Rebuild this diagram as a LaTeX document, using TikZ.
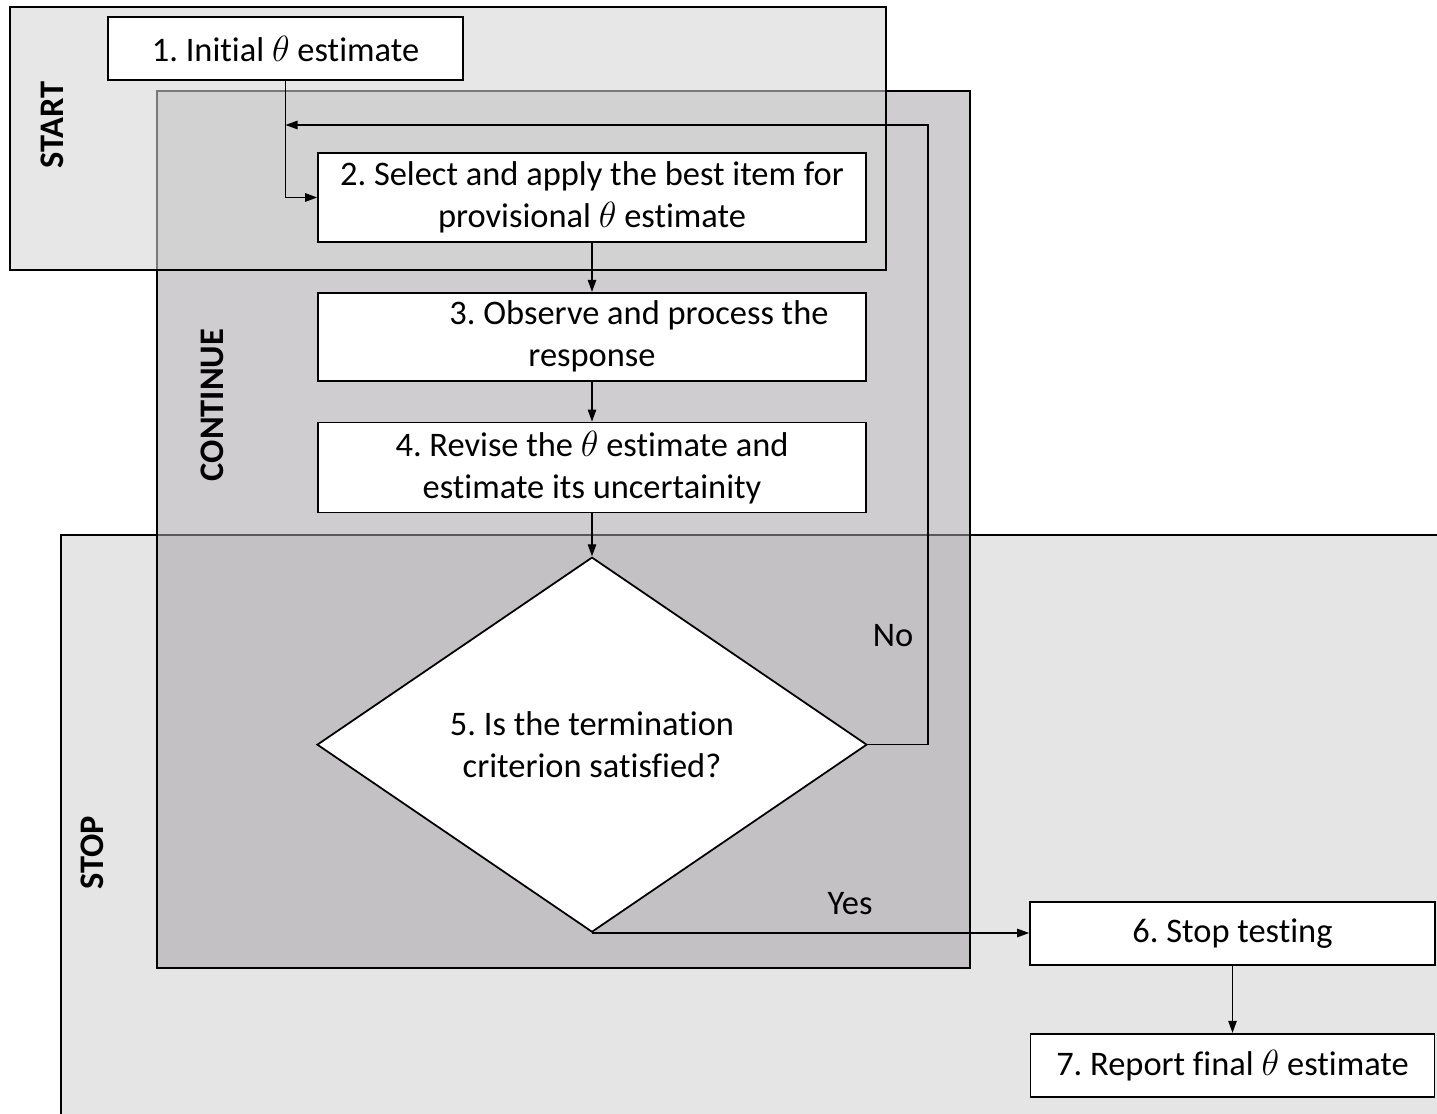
\documentclass[tikz,border=0pt]{standalone}
\usepackage{fontspec}
\setmainfont{Carlito}[Ligatures=NoCommon]
\frenchspacing
\usetikzlibrary{arrows.meta, positioning, shapes.geometric}

\begin{document}
\begin{tikzpicture}[
    x=0.02cm, y=-0.02cm, >={Triangle[length=0.24cm, width=0.17cm]},
    font=\fontsize{19.6}{24}\selectfont,
    stepbox/.style={draw, line width=1pt, fill=white, minimum width=10.96cm,
                    align=center, inner sep=2pt},
    zone/.style={draw, line width=1pt},
    zonelabel/.style={rotate=90, font=\fontsize{19.6}{24}\selectfont\bfseries},
    link/.style={->, line width=0.6pt}
  ]
  \clip (0,0) rectangle (1437,1114);
  \fill[white] (0,0) rectangle (1437,1114);
  % the three overlapping zones
  \draw[zone, fill={rgb,255:red,229;green,229;blue,229}]
    (61,535) rectangle (1460,1140);
  \draw[zone, fill={rgb,255:red,168;green,164;blue,168}, fill opacity=0.54]
    (157,91) rectangle (970,968);
  \draw[zone, fill={rgb,255:red,214;green,214;blue,214}, fill opacity=0.57]
    (10,7) rectangle (886,270);
  \node[zonelabel] (startlbl) at (52,125) {START};
  \node[zonelabel] (contlbl) at (212,405) {CONTINUE};
  \node[zonelabel] (stoplbl) at (92,853) {STOP};

  % steps
  \node[stepbox, minimum width=7.1cm, minimum height=1.26cm] (init)
    at (285.5,48.5) {1. Initial $\theta$ estimate};
  \node[stepbox, minimum height=1.78cm] (select) at (592,197.5)
    {2. Select and apply the best item for\\provisional $\theta$ estimate};
  \node[stepbox, minimum height=1.76cm, below=0.98cm of select] (observe)
    {\hspace*{1.88cm}3. Observe and process the\\response};
  \node[stepbox, minimum height=1.8cm, below=0.8cm of observe] (revise)
    {4. Revise the $\theta$ estimate and\\estimate its uncertainity};
  \node[draw, line width=1pt, fill=white, diamond, aspect=1.47,
        minimum width=11cm, minimum height=7.5cm, inner sep=0pt,
        align=center, below=0.86cm of revise] (check)
    {5. Is the termination\\criterion satisfied?};
  \node[stepbox, minimum width=8.1cm, minimum height=1.26cm] (halt)
    at (1232.5,933.5) {6. Stop testing};
  \node[stepbox, minimum width=8.08cm, minimum height=1.26cm,
        below=1.34cm of halt] (report) {7. Report final $\theta$ estimate};

  % connectors
  \coordinate (loop) at (928,125);
  \draw[link] (init.south) |- (select.west);
  \draw[link] (select) -- (observe);
  \draw[link] (observe) -- (revise);
  \draw[link] (revise) -- (check);
  \draw[link] (check.east) -| (loop) -- (loop -| init.south);
  \draw[link] (check.south) -- (check.south -| halt.west);
  \draw[link] (halt) -- (report);
  \node (no) at (893,636) {No};
  \node (yes) at (850,904) {Yes};
\end{tikzpicture}
\end{document}
